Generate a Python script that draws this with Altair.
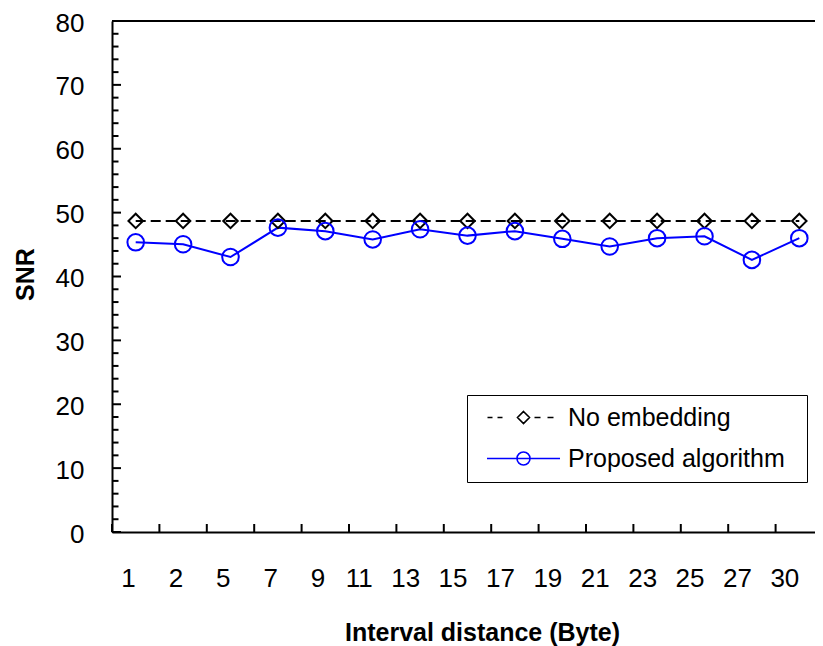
import altair as alt
import pandas as pd

# ---- data ----
categories = ["1", "2", "5", "7", "9", "11", "13", "15", "17", "19", "21", "23", "25", "27", "30"]
no_embedding = [48.7, 48.7, 48.7, 48.7, 48.7, 48.7, 48.7, 48.7, 48.7, 48.7, 48.7, 48.7, 48.7, 48.7, 48.7]
proposed = [45.35, 45.05, 43.05, 47.65, 47.1, 45.8, 47.4, 46.4, 47.1, 45.9, 44.7, 46.0, 46.3, 42.6, 46.0]
series_names = ["No embedding", "Proposed algorithm"]
y_major = [0, 10, 20, 30, 40, 50, 60, 70, 80]
y_minor = [2, 4, 6, 8, 12, 14, 16, 18, 22, 24, 26, 28, 32, 34, 36, 38, 42, 44, 46, 48,
           52, 54, 56, 58, 62, 64, 66, 68, 72, 74, 76, 78]

FONT = "Liberation Sans"
W, H = 711, 511

df_ne = pd.DataFrame({"cat": categories, "snr": no_embedding, "series": series_names[0]})
df_pa = pd.DataFrame({"cat": categories, "snr": proposed, "series": series_names[1]})
df_all = pd.concat([df_ne, df_pa], ignore_index=True)
df_cat = pd.DataFrame({"cat": categories})
df_major = pd.DataFrame({"v": y_major})
df_minor = pd.DataFrame({"v": y_minor})

xscale = alt.Scale(type="band", domain=categories, paddingInner=0, paddingOuter=0)
yscale = alt.Scale(domain=[0, 80], nice=False)

x_axis = alt.Axis(
    title="Interval distance  (Byte)", titleFont=FONT, titleFontSize=25, titleFontWeight="bold",
    titleColor="black", titleX=370, titleY=100, titleBaseline="middle", titleAnchor="middle",
    labelFont=FONT, labelFontSize=26, labelColor="black", labelAngle=0,
    labelPadding=46, labelBaseline="middle",
    ticks=False, tickSize=0, grid=False,
    domainColor="black", domainWidth=2,
)
y_axis = alt.Axis(
    title="SNR", titleFont=FONT, titleFontSize=25, titleFontWeight="bold", titleColor="black",
    titleAngle=270, titleX=-87, titleY=253, titleBaseline="middle", titleAlign="center",
    values=y_major, labelFont=FONT, labelFontSize=26, labelColor="black",
    labelPadding=28, labelOffset=2,
    ticks=False, tickSize=0, grid=False,
    domainColor="black", domainWidth=2,
)

X = alt.X("cat:N", scale=xscale, sort=categories, axis=x_axis)
Y = alt.Y("snr:Q", scale=yscale, axis=y_axis)

# line for No embedding (dashed) and Proposed algorithm (solid)
line_ne = alt.Chart(df_ne).mark_line(color="black", strokeDash=[10, 5], strokeWidth=2).encode(x=X, y=Y)
line_pa = alt.Chart(df_pa).mark_line(color="#0000FF", strokeWidth=2).encode(x=X, y=Y)
pts_ne = alt.Chart(df_ne).mark_point(shape="diamond", size=210, color="black",
                                      filled=False, strokeWidth=2, opacity=1).encode(x=X, y=Y)
pts_pa = alt.Chart(df_pa).mark_point(shape="circle", size=275, color="#0000FF",
                                      filled=False, strokeWidth=2, opacity=1).encode(x=X, y=Y)

# inward tick marks
xt = alt.X("cat:N", scale=xscale, sort=categories, bandPosition=0)
ticks_x = alt.Chart(df_cat).mark_rule(color="black", strokeWidth=2).encode(
    x=xt, y=alt.value(H - 8), y2=alt.value(H))
ticks_major = alt.Chart(df_major).mark_rule(color="black", strokeWidth=2).encode(
    y=alt.Y("v:Q", scale=yscale), x=alt.value(0), x2=alt.value(9))
ticks_minor = alt.Chart(df_minor).mark_rule(color="black", strokeWidth=2).encode(
    y=alt.Y("v:Q", scale=yscale), x=alt.value(0), x2=alt.value(6.5))
top_border = alt.Chart(df_major).mark_rule(color="black", strokeWidth=2).encode(
    y=alt.datum(80))

# legend driver (no visible marks in plot)
path_ne = "M-46,0M-36,0H-31M-26,0H-21M0,-6L6,0L0,6L-6,0ZM11,0H17M24,0H30M270,0"
path_pa = "M-46,0M-36.5,0H36.5M-6.5,0A6.5,6.5,0,1,0,6.5,0A6.5,6.5,0,1,0,-6.5,0M270,0"
leg = alt.Legend(
    title=None, orient="none", legendX=355, legendY=374,
    symbolSize=4, symbolStrokeWidth=1.6, symbolOffset=34, labelOffset=32,
    labelFont=FONT, labelFontSize=25, labelColor="black", labelLimit=500,
    padding=10, rowPadding=15, strokeColor="black", fillColor="white",
)
legend_layer = alt.Chart(df_all).transform_filter("false").mark_point(filled=False, opacity=1).encode(
    x=X, y=Y,
    color=alt.Color("series:N", scale=alt.Scale(domain=series_names, range=["black", "#0000FF"]), legend=leg),
    shape=alt.Shape("series:N", scale=alt.Scale(domain=series_names, range=[path_ne, path_pa]), legend=leg),
)

chart = alt.layer(
    ticks_minor, ticks_major, ticks_x, top_border,
    line_ne, line_pa, pts_ne, pts_pa, legend_layer,
).properties(
    width=W, height=H,
    autosize=alt.AutoSizeParams(type="none"),
    padding={"left": 104, "top": 13, "right": -8, "bottom": 114},
    background="white",
).configure_view(stroke=None)

chart.save("out.html", embed_options={"renderer": "svg", "actions": False})
